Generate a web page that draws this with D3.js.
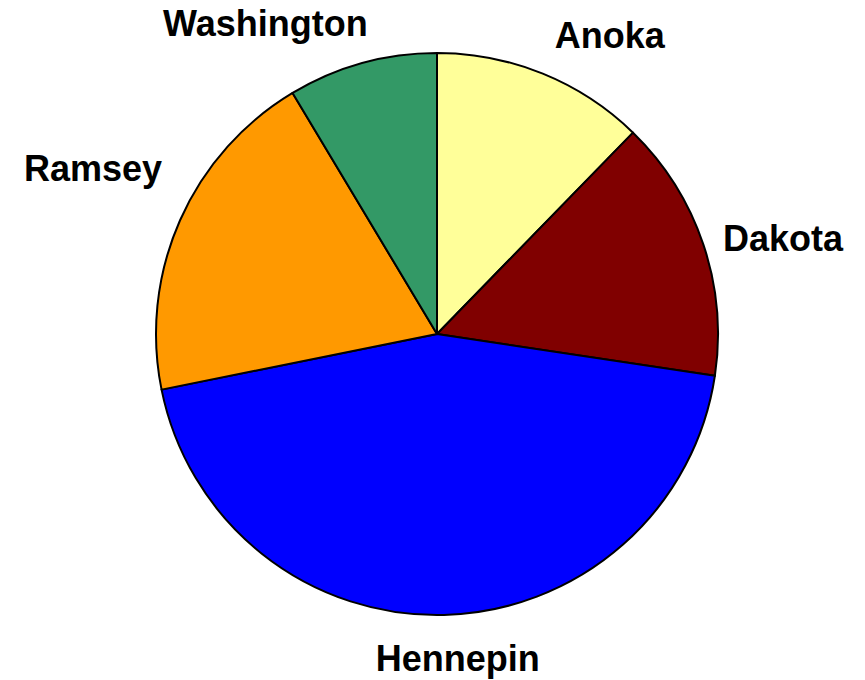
<!DOCTYPE html>
<html>
<head>
<meta charset="utf-8">
<script src="https://cdn.jsdelivr.net/npm/d3@7"></script>
<style>
  html, body { margin: 0; padding: 0; background: #ffffff; }
  svg { display: block; }
  text { font-family: "Liberation Sans", Arial, sans-serif; font-weight: bold; }
</style>
</head>
<body>
<svg id="chart" width="865" height="680"></svg>
<script>
// ---- data ----
const counties = ["Anoka", "Dakota", "Hennepin", "Ramsey", "Washington"];
const shares   = [12.3, 15.1, 44.5, 19.6, 8.6];
const colors   = ["#FFFF99", "#800000", "#0000FF", "#FF9900", "#339966"];

// ---- layout ----
const W = 865, H = 680;
const cx = 437, cy = 334, R = 281;
const labelRadius = 305;
const fontSize = 36;
const ascent = fontSize * 0.905, descent = fontSize * 0.212, capH = fontSize * 0.716;
// small extra shifts mimicking the spreadsheet's own label placement
const labelShift = {
  Anoka: [3, 4],
  Dakota: [-3, 1],
  Hennepin: [13, 0],
  Ramsey: [4, -22],
  Washington: [12, 4]
};

const svg = d3.select("#chart");
const g = svg.append("g").attr("transform", `translate(${cx},${cy})`);

const data = counties.map((c, i) => ({ name: c, value: shares[i], color: colors[i] }));
const pie = d3.pie().value(d => d.value).sort(null);
const arc = d3.arc().innerRadius(0).outerRadius(R);
const arcs = pie(data);

g.selectAll("path.slice")
  .data(arcs)
  .join("path")
  .attr("class", "slice")
  .attr("d", arc)
  .attr("fill", d => d.data.color)
  .attr("stroke", "#000")
  .attr("stroke-width", 2)
  .attr("stroke-linejoin", "round");

g.selectAll("text.lbl")
  .data(arcs)
  .join("text")
  .attr("class", "lbl")
  .attr("font-size", fontSize)
  .attr("fill", "#000")
  .text(d => d.data.name)
  .each(function(d) {
    const a = (d.startAngle + d.endAngle) / 2;
    const s = Math.sin(a), c = Math.cos(a);
    const px = labelRadius * s, py = -labelRadius * c;
    const anchor = s > 0.2 ? "start" : (s < -0.2 ? "end" : "middle");
    let baseline;
    if (c > 0.35) baseline = py - descent;          // label sits above the point
    else if (c < -0.35) baseline = py + ascent;     // label hangs below the point
    else baseline = py + capH / 2;                  // vertically centred
    const sh = labelShift[d.data.name] || [0, 0];
    d3.select(this)
      .attr("text-anchor", anchor)
      .attr("x", px + sh[0])
      .attr("y", baseline + sh[1]);
  });
</script>
</body>
</html>
